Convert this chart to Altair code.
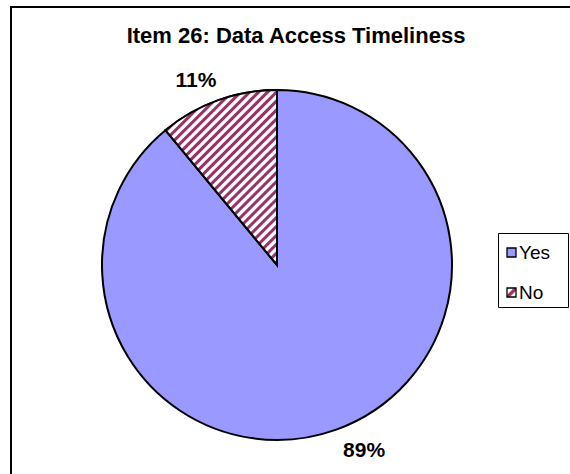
import altair as alt
import pandas as pd

# ---- data ----
categories = ["Yes", "No"]
values = [89, 11]
labels = ["89%", "11%"]
title_text = "Item 26: Data Access Timeliness"

BLUE = "#9999FF"
MAROON = "#993366"
FONT = "Liberation Sans"

df = pd.DataFrame({
    "category": categories,
    "value": values,
    "label": labels,
    "idx": list(range(len(categories))),
})


def stripe_stops(n):
    stops = []
    p = 1.0 / n
    for i in range(n):
        b = i * p
        stops += [
            {"offset": round(b, 5), "color": "white"},
            {"offset": round(b + 0.30 * p, 5), "color": "white"},
            {"offset": round(b + 0.45 * p, 5), "color": MAROON},
            {"offset": round(b + 0.78 * p, 5), "color": MAROON},
            {"offset": round(b + 0.93 * p, 5), "color": "white"},
        ]
    stops.append({"offset": 1.0, "color": "white"})
    return stops


slice_hatch = {
    "gradient": "linear",
    "x1": 0, "y1": 0, "x2": 0.741, "y2": 1.165,
    "stops": stripe_stops(32),
}
legend_hatch = {
    "gradient": "linear",
    "x1": 0, "y1": 0, "x2": 1, "y2": 1,
    "stops": [
        {"offset": 0.0, "color": "white"},
        {"offset": 0.33, "color": "white"},
        {"offset": 0.43, "color": MAROON},
        {"offset": 0.60, "color": MAROON},
        {"offset": 0.70, "color": "white"},
        {"offset": 1.0, "color": "white"},
    ],
}

CX, CY, R = 277, 265, 175
is_no = f"datum.category == '{categories[1]}'"
is_yes = f"datum.category == '{categories[0]}'"

base = alt.Chart(df).encode(
    theta=alt.Theta("value:Q", stack=True),
    order=alt.Order("idx:Q"),
    x=alt.value(CX),
    y=alt.value(CY),
)

pie_fill = base.mark_arc(fill=BLUE, stroke="black", strokeWidth=2, radius=R)
pie_hatch = base.mark_arc(fill=slice_hatch, stroke="black", strokeWidth=2, radius=R).encode(
    opacity=alt.condition(is_no, alt.value(1), alt.value(0))
)

lbl_style = dict(radius=198, fontSize=21, fontWeight="bold", font=FONT, color="black")
label_no = base.mark_text(dx=-14, dy=2, **lbl_style).encode(
    text="label:N",
    opacity=alt.condition(is_no, alt.value(1), alt.value(0)),
)
label_yes = base.mark_text(dx=20, dy=0, **lbl_style).encode(
    text="label:N",
    opacity=alt.condition(is_yes, alt.value(1), alt.value(0)),
)

title = alt.Chart(pd.DataFrame({"t": [title_text]})).mark_text(
    fontSize=22, fontWeight="bold", font=FONT, color="black", baseline="alphabetic"
).encode(text="t:N", x=alt.value(296), y=alt.value(43))

border = alt.Chart(pd.DataFrame({"t": [0]})).mark_rect(
    filled=False, stroke="black", strokeWidth=2
).encode(x=alt.value(11), y=alt.value(7), x2=alt.value(640), y2=alt.value(560))

legend_box = alt.Chart(pd.DataFrame({"t": [0]})).mark_rect(
    fill="white", stroke="black", strokeWidth=1
).encode(x=alt.value(498.5), y=alt.value(233.5), x2=alt.value(568.5), y2=alt.value(307.5))

leg_y = alt.Y("category:N", scale=alt.Scale(domain=categories, range=[252.5, 292.5], padding=0), axis=None)

leg_yes = alt.Chart(df).transform_filter(is_yes).mark_square(
    size=81, fill=BLUE, stroke="black", strokeWidth=1.3, opacity=1
).encode(x=alt.value(511.5), y=leg_y)
leg_no = alt.Chart(df).transform_filter(is_no).mark_square(
    size=81, fill=legend_hatch, stroke="black", strokeWidth=1.3, opacity=1
).encode(x=alt.value(511.5), y=leg_y)
leg_text = alt.Chart(df).mark_text(
    align="left", baseline="middle", fontSize=19, font=FONT, color="black"
).encode(x=alt.value(519), y=leg_y, text="category:N")

chart = alt.layer(
    border, title, pie_fill, pie_hatch, label_no, label_yes,
    legend_box, leg_yes, leg_no, leg_text,
).properties(
    width=570, height=474, padding=0,
    autosize=alt.AutoSizeParams(type="none"),
    background="white",
).configure_view(stroke=None)

chart.save("out.html", embed_options={"renderer": "svg", "actions": False})
